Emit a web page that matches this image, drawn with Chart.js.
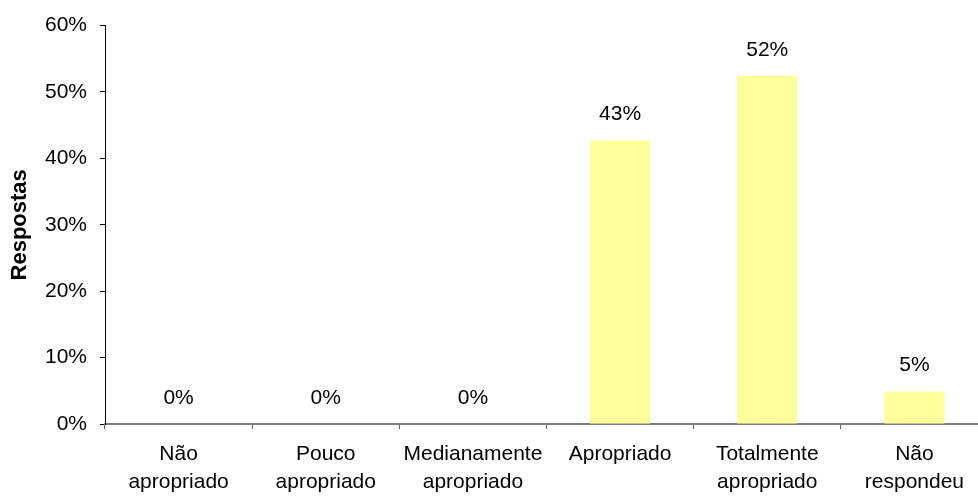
<!DOCTYPE html>
<html>
<head>
<meta charset="utf-8">
<script src="https://cdn.jsdelivr.net/npm/chart.js@4/dist/chart.umd.min.js"></script>
<style>
	html, body { margin: 0; padding: 0; background: #fff; overflow: hidden; }
	#wrap { width: 978px; height: 496px; overflow: hidden; }
</style>
</head>
<body>
<div id="wrap"><canvas id="cnvs" width="990" height="496"></canvas></div>
<script>
var categories = [
	['Não', 'apropriado'],
	['Pouco', 'apropriado'],
	['Medianamente', 'apropriado'],
	['Apropriado'],
	['Totalmente', 'apropriado'],
	['Não', 'respondeu']
];
var respostas = [0, 0, 0, 42.7, 52.4, 4.9];
var yTicks = [0, 10, 20, 30, 40, 50, 60];

var fontFamily = "'Liberation Sans', Arial, sans-serif";

// value above each bar
var barLabels = {
	id: 'barLabels',
	afterDatasetsDraw: function(chart)
	{
		var ctx = chart.ctx;
		var meta = chart.getDatasetMeta(0);
		ctx.save();
		ctx.font = '21px ' + fontFamily;
		ctx.fillStyle = '#000';
		ctx.textAlign = 'center';
		ctx.textBaseline = 'middle';
		meta.data.forEach(function(bar, i) {
			ctx.fillText(Math.round(respostas[i]) + '%', bar.x, bar.y - 26);
		});
		ctx.restore();
	}
};

var ctx = document.getElementById('cnvs').getContext('2d');
var chart = new Chart(ctx, {
	type: 'bar',
	data: {
		labels: categories,
		datasets: [{
			data: respostas,
			backgroundColor: '#FFFF99',
			borderWidth: 0,
			barPercentage: 0.408,
			categoryPercentage: 1
		}]
	},
	options: {
		responsive: false,
		animation: false,
		devicePixelRatio: 1,
		layout: { padding: { top: 15, right: 2, bottom: 0, left: 0 } },
		plugins: {
			legend: { display: false },
			tooltip: { enabled: false }
		},
		scales: {
			x: {
				afterFit: function(scale) { scale.height = 72; },
				grid: {
					drawOnChartArea: false,
					drawTicks: true,
					tickLength: 5,
					color: '#666'
				},
				border: { color: '#808080', width: 2 },
				ticks: {
					color: '#000',
					padding: 11,
					maxRotation: 0,
					autoSkip: false,
					font: { family: fontFamily, size: 21, lineHeight: 1.33 }
				}
			},
			y: {
				min: 0,
				max: 60,
				afterBuildTicks: function(scale) {
					scale.ticks = yTicks.map(function(v) { return { value: v }; });
				},
				afterFit: function(scale) { scale.width = 105; },
				grid: {
					drawOnChartArea: false,
					drawTicks: true,
					tickLength: 5,
					color: '#000'
				},
				border: { color: '#000', width: 1 },
				ticks: {
					color: '#000',
					padding: 13,
					callback: function(v) { return v + '%'; },
					font: { family: fontFamily, size: 21 }
				},
				title: {
					display: true,
					text: 'Respostas',
					color: '#000',
					padding: { top: 7, bottom: 0 },
					font: { family: fontFamily, size: 22, weight: 'bold' }
				}
			}
		}
	},
	plugins: [barLabels]
});
</script>
</body>
</html>
